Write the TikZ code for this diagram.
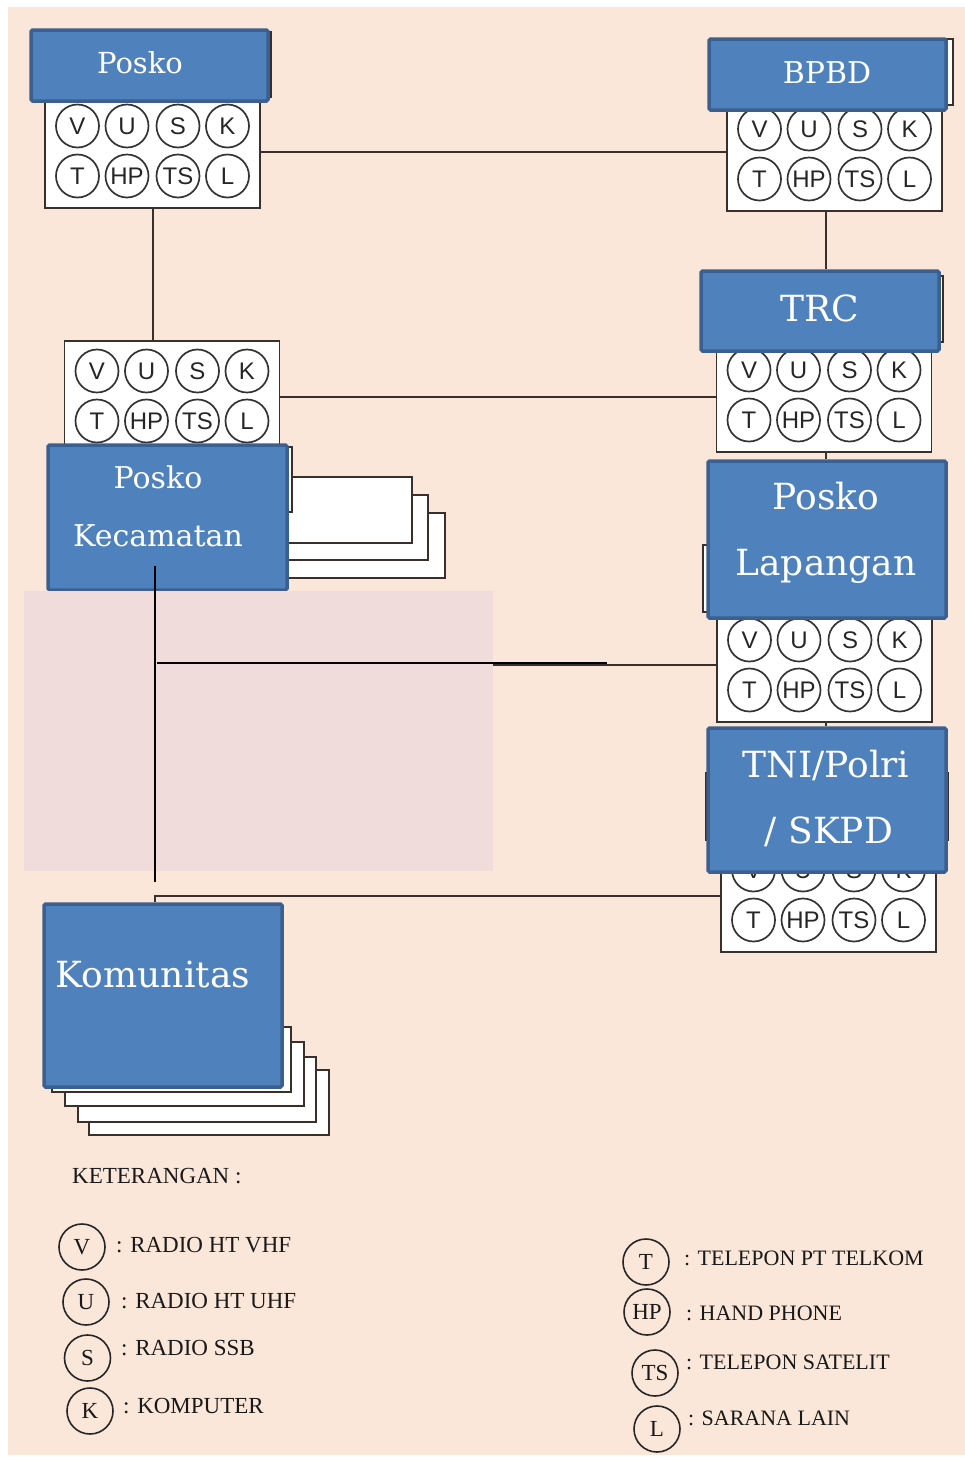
\documentclass[tikz,border=0pt]{standalone}
\usepackage{fontspec}
\setmainfont{DejaVu Serif}
\newfontfamily\circfont{Liberation Sans}
\newfontfamily\legfont{Liberation Serif}
\definecolor{bg}{HTML}{FBE7D9}
\definecolor{blueF}{HTML}{4F81BD}
\definecolor{blueD}{HTML}{3B6090}
\definecolor{pinkR}{HTML}{F0DCDA}
\definecolor{edgeC}{HTML}{3A302B}
\newcommand{\equip}[3]{%
  \node[equipbox] (#1) at (#2,{#3+1}) {};
  \node[dev] (#1-v)  at ({#2-75},{#3-25}) {V};
  \node[dev] (#1-u)  at ({#2-25.5},{#3-25}) {U};
  \node[dev] (#1-s)  at ({#2+25.5},{#3-25}) {S};
  \node[dev] (#1-k)  at ({#2+75},{#3-25}) {K};
  \node[dev] (#1-t)  at ({#2-75},{#3+25}) {T};
  \node[dev] (#1-hp) at ({#2-25.5},{#3+25}) {HP};
  \node[dev] (#1-ts) at ({#2+25.5},{#3+25}) {TS};
  \node[dev] (#1-l)  at ({#2+75},{#3+25}) {L};
}
\begin{document}
\begin{tikzpicture}[x=1pt,y=-1pt,
  equipbox/.style={rectangle, draw=edgeC, fill=white, line width=1.8pt, inner sep=0pt, minimum width=215pt, minimum height=112pt},
  dev/.style={circle, draw=black!80, line width=1.7pt, minimum size=43pt, inner sep=0pt, text=black!85, font=\circfont\fontsize{24}{24}\selectfont},
  blk/.style={rectangle, draw=blueD, fill=blueF, line width=3.5pt, rounded corners=1.5pt, inner sep=0pt},
  backbox/.style={draw=edgeC, fill=white, line width=1.8pt},
  lbl/.style={text=white, anchor=base, inner sep=0pt},
  link/.style={draw=edgeC, line width=2pt},
  heavy/.style={draw=black, line width=2.6pt},
  legc/.style={circle, draw=black!85, line width=1.6pt, minimum size=46pt, inner sep=0pt, text=black!90, font=\legfont\fontsize{23}{23}\selectfont},
  legt/.style={anchor=base west, inner sep=0pt, text=black!90, font=\legfont\fontsize{23}{23}\selectfont}
]
\useasboundingbox (0,0) rectangle (965,1457);
\fill[white] (0,0) rectangle (965,1457);
\fill[bg] (8,7) rectangle (965,1455);

% equipment panels
\equip{pe}{152.5}{151}
\equip{be}{834.5}{154}
\equip{ke}{172}{396}
\equip{te}{824}{395}
\equip{le}{824.5}{665}
\equip{ne}{828.5}{895}

\coordinate (colR) at (826,0);
\coordinate (colL) at (154.5,0);
\coordinate (j3) at (155,665);

% back shadows and stacks
\draw[backbox] (40,32) rectangle (271,97);
\draw[backbox] (720,39) rectangle (953,105);
\draw[backbox] (710,276) rectangle (943,342);
\draw[backbox] (703,545) rectangle (900,612);
\draw[backbox] (706,773) rectangle (948,840);
\draw[backbox] (100,513) rectangle (445,578);
\draw[backbox] (100,495) rectangle (428,560);
\draw[backbox] (100,477) rectangle (412,543);
\draw[backbox] (60,447) rectangle (292,512);
\draw[backbox] (89,1070) rectangle (329,1135);
\draw[backbox] (78,1057) rectangle (316,1122);
\draw[backbox] (65,1042) rectangle (304,1106);
\draw[backbox] (52,1027) rectangle (291,1092);

% blue blocks
\node[blk, minimum width=237pt, minimum height=71pt] (posko) at (149.5,65.5) {};
\node[blk, minimum width=237pt, minimum height=71pt] (bpbd) at (827.5,74.5) {};
\node[blk, minimum width=238pt, minimum height=80pt] (trc) at (820,311) {};
\node[blk, minimum width=239pt, minimum height=145pt] (kec) at (167.5,517.5) {};
\node[blk, minimum width=238pt, minimum height=157pt] (lap) at (827,539.5) {};
\node[blk, minimum width=238pt, minimum height=144pt] (tni) at (827,800) {};
\node[blk, minimum width=238pt, minimum height=183pt] (kom) at (163,995.5) {};

% thin connectors
\draw[link] (pe.east) -- (pe.east -| be.west);
\draw[link] (be.south -| colR) -- (trc.north -| colR);
\draw[link] (pe.south) -- (pe.south |- ke.north);
\draw[link] (ke.east) -- (ke.east -| te.west);
\draw[link] (te.south -| colR) -- (lap.north -| colR);
\draw[link] (le.south -| colR) -- (tni.north -| colR);
\draw[link] (j3) -- (le.west |- j3);
\draw[link] (ne.west) -- (ne.west -| colL) -- (kom.north -| colL);

% labels
\node[lbl, font=\fontsize{29}{29}\selectfont] (poskoT) at (140,73) {Posko};
\node[lbl, font=\fontsize{30}{30}\selectfont] (bpbdT) at (827,83) {BPBD};
\node[lbl, font=\fontsize{36}{36}\selectfont] (trcT) at (820,321) {TRC};
\node[lbl, font=\fontsize{30}{30}\selectfont] (kecT1) at (158,488) {Posko};
\node[lbl, font=\fontsize{30}{30}\selectfont] (kecT2) at (158,546) {Kecamatan};
\node[lbl, font=\fontsize{36}{36}\selectfont] (lapT1) at (826,509) {Posko};
\node[lbl, font=\fontsize{36}{36}\selectfont] (lapT2) at (826,575) {Lapangan};
\node[lbl, font=\fontsize{36}{36}\selectfont] (tniT1) at (826,777) {TNI/Polri};
\node[lbl, font=\fontsize{36}{36}\selectfont] (tniT2) at (829,843) {/ SKPD};
\node[lbl, font=\fontsize{36}{36}\selectfont] (komT) at (153,987) {Komunitas};

% pink overlay and heavy lines
\fill[pinkR] (24,591) rectangle (493,871);
\coordinate (h1) at (155,566);
\coordinate (h2) at (155,882);
\coordinate (h3) at (157,663);
\coordinate (h4) at (607,663);
\draw[heavy] (h1) -- (h2);
\draw[heavy] (h3) -- (h4);

% legend
\node[legt] (ket) at (72,1183) {KETERANGAN :};
\node[legc] (lv) at (82,1247) {V};
\node[legt] (lvt) at (116,1252) {: RADIO HT VHF};
\node[legc] (lu) at (86,1302) {U};
\node[legt] (lut) at (121,1308) {: RADIO HT UHF};
\node[legc] (ls) at (87.5,1358) {S};
\node[legt] (lst) at (121,1355) {: RADIO SSB};
\node[legc] (lk) at (90,1411) {K};
\node[legt] (lkt) at (123,1413) {: KOMPUTER};
\node[legc] (rt) at (646,1262) {T};
\node[legt, font=\legfont\fontsize{22}{22}\selectfont] (rtt) at (684,1265) {: TELEPON PT TELKOM};
\node[legc] (rhp) at (647,1312) {HP};
\node[legt, font=\legfont\fontsize{22}{22}\selectfont] (rhpt) at (686,1320) {: HAND PHONE};
\node[legc] (rts) at (655,1373) {TS};
\node[legt, font=\legfont\fontsize{22}{22}\selectfont] (rtst) at (686,1369) {: TELEPON SATELIT};
\node[legc] (rl) at (657,1429) {L};
\node[legt, font=\legfont\fontsize{22}{22}\selectfont] (rlt) at (688,1425) {: SARANA LAIN};
\end{tikzpicture}
\end{document}
